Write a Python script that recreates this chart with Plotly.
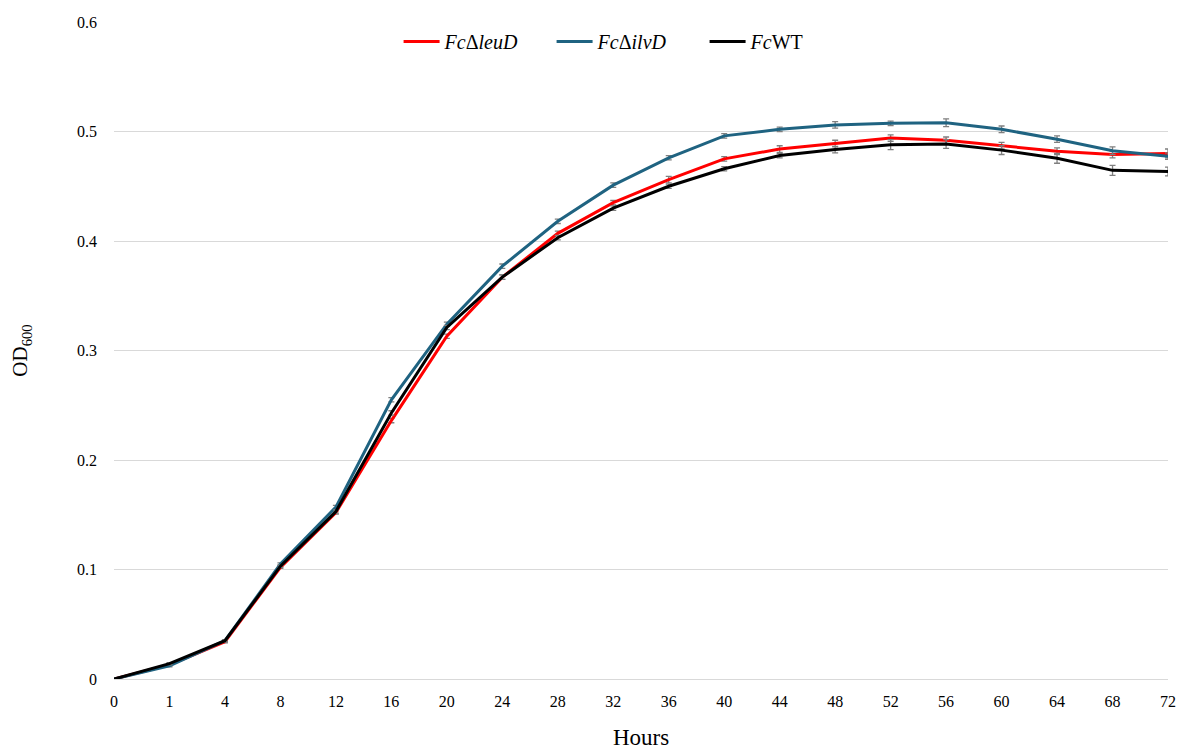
import plotly.graph_objects as go

hours = ["0", "1", "4", "8", "12", "16", "20", "24", "28", "32", "36", "40",
         "44", "48", "52", "56", "60", "64", "68", "72"]

leuD = [0.000, 0.013, 0.034, 0.102, 0.152, 0.236, 0.313, 0.367, 0.407, 0.435,
        0.456, 0.475, 0.484, 0.489, 0.494, 0.492, 0.487, 0.482, 0.479, 0.480]
leuD_err = [0.0005, 0.001, 0.001, 0.001, 0.0015, 0.002, 0.002, 0.002, 0.002, 0.002,
            0.003, 0.002, 0.003, 0.003, 0.003, 0.003, 0.003, 0.003, 0.003, 0.004]

ilvD = [0.000, 0.012, 0.035, 0.105, 0.157, 0.255, 0.324, 0.377, 0.418, 0.451,
        0.476, 0.496, 0.502, 0.506, 0.5075, 0.508, 0.502, 0.493, 0.4825, 0.4775]
ilvD_err = [0.0005, 0.001, 0.001, 0.001, 0.0015, 0.002, 0.002, 0.002, 0.002, 0.002,
            0.002, 0.002, 0.002, 0.003, 0.002, 0.0035, 0.003, 0.003, 0.0035, 0.003]

wt = [0.000, 0.014, 0.035, 0.103, 0.153, 0.243, 0.321, 0.367, 0.403, 0.430,
      0.450, 0.466, 0.478, 0.4835, 0.488, 0.4885, 0.483, 0.4755, 0.4645, 0.4635]
wt_err = [0.0005, 0.001, 0.001, 0.001, 0.0015, 0.002, 0.002, 0.002, 0.002, 0.002,
          0.002, 0.002, 0.002, 0.003, 0.0045, 0.004, 0.004, 0.0045, 0.0045, 0.004]

series = [
    ("<i>Fc</i>Δ<i>leuD</i>", leuD, leuD_err, "#FF0000"),
    ("<i>Fc</i>Δ<i>ilvD</i>", ilvD, ilvD_err, "#1F6381"),
    ("<i>Fc</i>WT", wt, wt_err, "#000000"),
]

fig = go.Figure()
for name, vals, errs, color in series:
    fig.add_trace(go.Scatter(
        x=hours, y=vals, name=name, mode="lines",
        line=dict(color=color, width=3),
        error_y=dict(type="data", array=errs, visible=True,
                     color="#7f7f7f", thickness=1.3, width=3),
    ))

font = "Liberation Serif, Times New Roman, serif"
fig.update_layout(
    width=1182, height=750,
    paper_bgcolor="white", plot_bgcolor="white",
    margin=dict(l=114, r=14, t=22, b=71),
    font=dict(family=font, size=16, color="#000000"),
    showlegend=True,
    legend=dict(orientation="h", x=0.27, xanchor="left", y=1.0, yanchor="top",
                font=dict(family=font, size=20), bgcolor="rgba(0,0,0,0)",
                itemwidth=36, entrywidth=102, entrywidthmode="pixels",
                tracegroupgap=0),
    xaxis=dict(type="category", range=[0, 19], showgrid=False, showline=True,
               linecolor="#d9d9d9", linewidth=1, ticks="", zeroline=False,
               automargin=False,
               tickfont=dict(family=font, size=16), ticklabelstandoff=8,
               title=dict(text="Hours", font=dict(family=font, size=23), standoff=21)),
    yaxis=dict(range=[0, 0.6], showgrid=True, gridcolor="#d9d9d9", gridwidth=1,
               zeroline=False, showline=False, ticks="", automargin=False,
               tickfont=dict(family=font, size=16), ticklabelstandoff=16,
               tickvals=[0, 0.1, 0.2, 0.3, 0.4, 0.5, 0.6],
               ticktext=["0", "0.1", "0.2", "0.3", "0.4", "0.5", "0.6"],
               title=dict(text="OD<sub>600</sub>", font=dict(family=font, size=21), standoff=43)),
)

fig.write_html("out.html", config={"displayModeBar": False},
               post_script="document.body.style.margin='0';document.body.style.overflow='hidden';")
